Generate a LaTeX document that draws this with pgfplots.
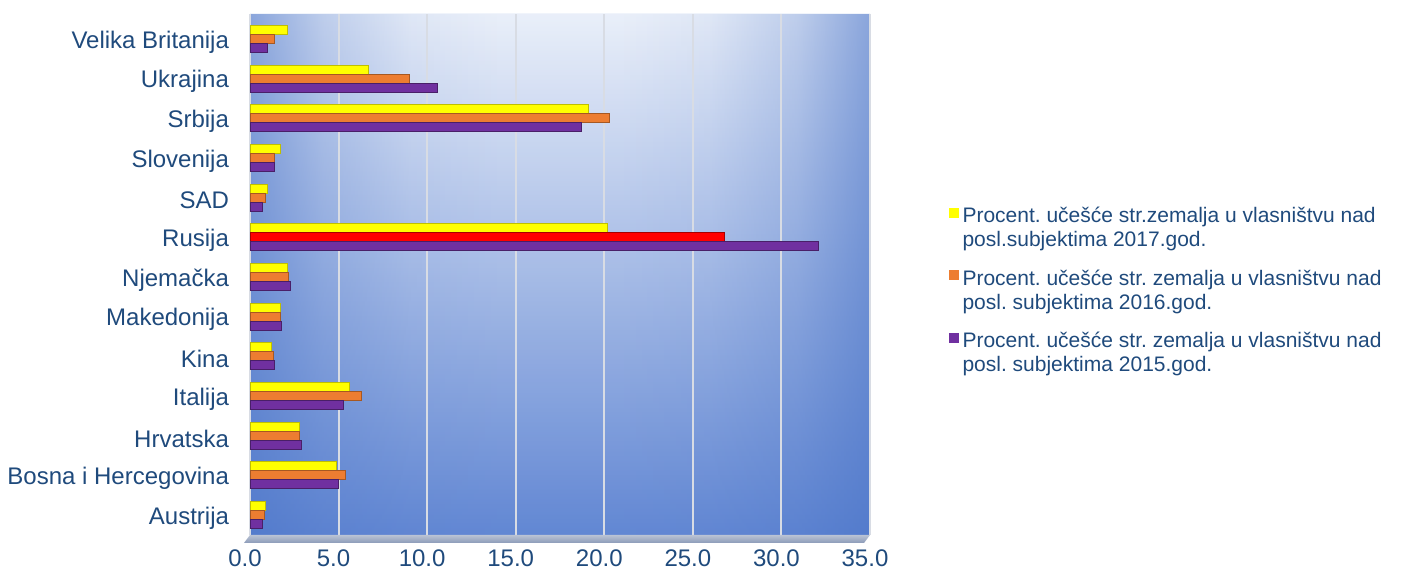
\documentclass[border=0pt]{standalone}
\usepackage{pgfplots}
\pgfplotsset{compat=1.18}
\usetikzlibrary{fadings}
\usepackage{fontspec}
\setmainfont{Liberation Sans}

\definecolor{txt}{HTML}{1F4A7C}
\definecolor{cyel}{HTML}{FFFF00}
\definecolor{cora}{HTML}{ED7D31}
\definecolor{cpur}{HTML}{7030A0}
\definecolor{cred}{HTML}{FF0000}
\definecolor{bgtop}{HTML}{F0F4FB}
\definecolor{bgmid}{HTML}{AFC3E9}
\definecolor{bgbot}{HTML}{6388D4}
\definecolor{bgedge}{HTML}{4A74C8}
\definecolor{gridc}{HTML}{D8DCE4}
\definecolor{floorc}{HTML}{8C9BB8}

% opaque near the left/right walls, clear in the middle
\pgfdeclarehorizontalshading{edgeshade}{100bp}{color(0bp)=(white!62!black); color(25bp)=(white!62!black); color(31bp)=(white!30!black); color(38bp)=(white!10!black); color(45bp)=(white!4!black); color(55bp)=(white!4!black); color(62bp)=(white!10!black); color(69bp)=(white!30!black); color(75bp)=(white!62!black); color(100bp)=(white!62!black)}
\pgfdeclarefading{edgefade}{\pgfuseshading{edgeshade}}

\begin{document}
\begin{tikzpicture}
\useasboundingbox (0,0) rectangle (703pt,288pt);
\begin{axis}[
  at={(125pt,20.5pt)}, anchor=south west,
  scale only axis,
  width=310pt, height=260.5pt,
  clip=false,
  xbar, bar width=4.5pt,
  xmin=0, xmax=35,
  ymin=-0.43, ymax=12.71,
  xtick={0,5,...,35},
  ytick={0,...,12},
  yticklabels={Austrija, Bosna i Hercegovina, Hrvatska, Italija, Kina, Makedonija, Njemačka, Rusija, SAD, Slovenija, Srbija, Ukrajina, Velika Britanija},
  xticklabel style={font=\fontsize{12}{14}\selectfont, text=txt, xshift=-2.5pt, yshift=-4pt},
  yticklabel style={font=\fontsize{12}{14}\selectfont, text=txt, xshift=-7pt},
  /pgf/number format/.cd, fixed, fixed zerofill, precision=1, assume math mode=true,
  /pgfplots/.cd,
  major tick length=0pt,
  axis line style={draw=none},
  axis background/.style={shade, top color=bgtop, middle color=bgmid, bottom color=bgbot,
    postaction={fill=bgedge, path fading=edgefade}},
  xmajorgrids,
  major grid style={color=gridc, line width=1pt},
  legend style={draw=none, fill=none, at={(1.126,0.637)}, anchor=north west,
    font=\fontsize{10.5}{12}\selectfont, text=txt, row sep=6pt, inner sep=0pt,
    cells={align=left, anchor=west}},
  legend cell align=left,
  legend image code/.code={\fill[#1,draw=none] (0pt,5.5pt) rectangle (5pt,10.5pt);},
]
\addplot[fill=cyel, draw=cyel!75!black, line width=0.5pt, bar shift=6pt] coordinates {
  (0.9,0) (4.9,1) (2.8,2) (5.6,3) (1.2,4) (1.7,5) (2.1,6)
  (20.2,7) (1.0,8) (1.7,9) (19.1,10) (6.7,11) (2.1,12)
};
\addlegendentry{Procent.\ učešće str.zemalja u vlasništvu nad\\posl.subjektima 2017.god.}

\addplot[fill=cora, draw=cora!70!black, line width=0.5pt, bar shift=1.5pt] coordinates {
  (0.8,0) (5.4,1) (2.8,2) (6.3,3) (1.3,4) (1.7,5) (2.2,6)
  (0.9,8) (1.4,9) (20.3,10) (9.0,11) (1.4,12)
};
\addlegendentry{Procent.\ učešće str.\ zemalja u vlasništvu nad\\posl.\ subjektima 2016.god.}

\addplot[fill=cred, draw=cred!65!black, line width=0.5pt, bar shift=1.5pt, forget plot] coordinates {
  (26.8,7)
};

\addplot[fill=cpur, draw=cpur!65!black, line width=0.5pt, bar shift=-3pt] coordinates {
  (0.7,0) (5.0,1) (2.9,2) (5.3,3) (1.4,4) (1.8,5) (2.3,6)
  (32.1,7) (0.7,8) (1.4,9) (18.7,10) (10.6,11) (1.0,12)
};
\addlegendentry{Procent.\ učešće str.\ zemalja u vlasništvu nad\\posl.\ subjektima 2015.god.}

\shade[top color=floorc!60!white, bottom color=floorc] (rel axis cs:0,0) -- (rel axis cs:1,0) -- ([xshift=-3pt,yshift=-4pt]rel axis cs:1,0) -- ([xshift=-3pt,yshift=-4pt]rel axis cs:0,0) -- cycle;
\end{axis}
\end{tikzpicture}
\end{document}
